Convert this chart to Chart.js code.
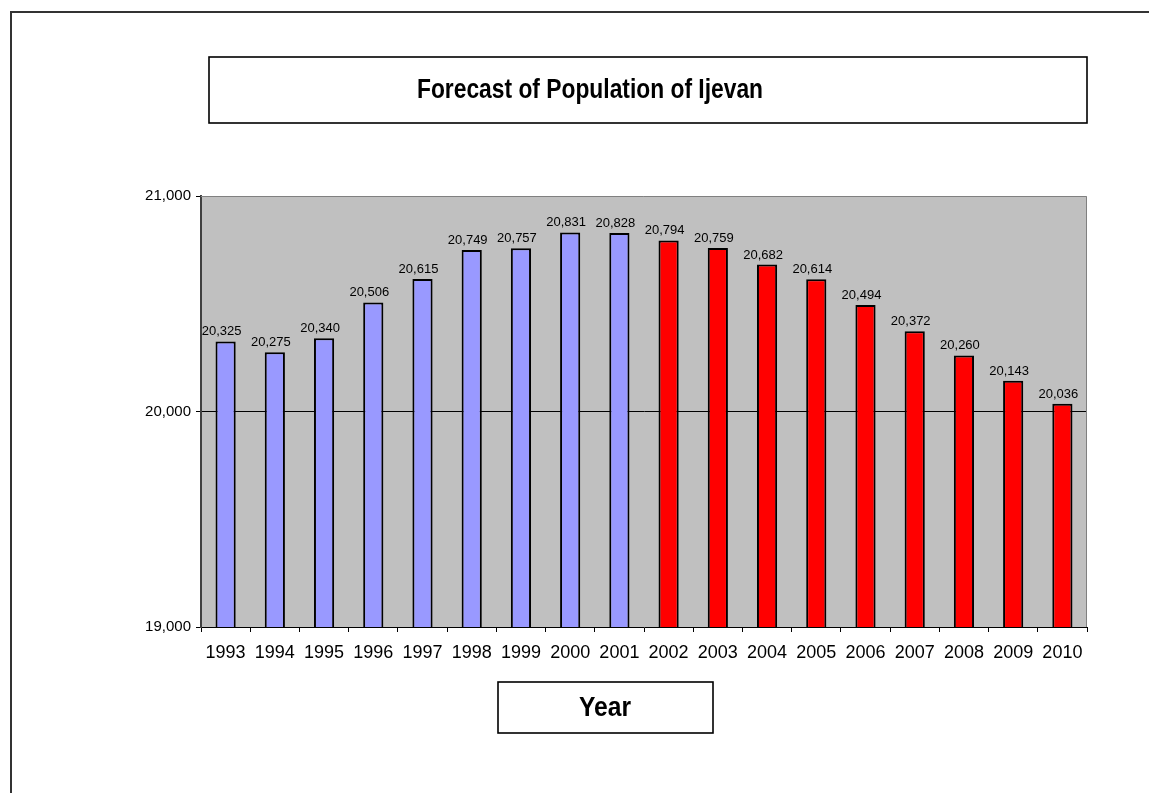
<!DOCTYPE html>
<html>
<head>
<meta charset="utf-8">
<script src="https://cdn.jsdelivr.net/npm/chart.js@4.4.1/dist/chart.umd.min.js"></script>
<style>
html, body { margin: 0; padding: 0; background: #fff; }
#wrap { width: 1149px; height: 793px; }
</style>
</head>
<body>
<div id="wrap"><canvas id="chartPop" width="1149" height="793"></canvas></div>
<script>
// data
const years = ['1993', '1994', '1995', '1996', '1997', '1998', '1999', '2000', '2001',
  '2002', '2003', '2004', '2005', '2006', '2007', '2008', '2009', '2010'];
const population = [20325, 20275, 20340, 20506, 20615, 20749, 20757, 20831, 20828,
  20794, 20759, 20682, 20614, 20494, 20372, 20260, 20143, 20036];
const firstForecastYear = 2002;
const yTicks = [19000, 20000, 21000];

const titleText = 'Forecast of Population of Ijevan';
const axisTitleText = 'Year';

const plainFont = "'Liberation Sans', Arial, sans-serif";

const barColors = years.map(y => Number(y) < firstForecastYear ? '#9999ff' : '#ff0000');
const fmt = v => v.toLocaleString('en-US');

// boxed label; the font is squeezed sideways to look like Arial Narrow
function box(ctx, x1, y1, x2, y2, text, cx, cy, targetW) {
  ctx.save();
  ctx.fillStyle = '#fff';
  ctx.fillRect(x1, y1, x2 - x1, y2 - y1);
  ctx.strokeStyle = '#000';
  ctx.lineWidth = 1.6;
  ctx.strokeRect(x1, y1, x2 - x1, y2 - y1);
  ctx.fillStyle = '#000';
  ctx.font = 'bold 27px ' + plainFont;
  ctx.textAlign = 'center';
  ctx.textBaseline = 'middle';
  const k = Math.min(1, targetW / ctx.measureText(text).width);
  ctx.translate(cx, cy);
  ctx.scale(k, 1);
  ctx.fillText(text, 0, 0);
  ctx.restore();
}

const decor = {
  id: 'decor',
  beforeDraw(chart) {
    const { ctx, chartArea: a } = chart;
    ctx.save();
    ctx.strokeStyle = '#333';
    ctx.lineWidth = 2;
    ctx.strokeRect(11, 12, 1160, 800);
    ctx.fillStyle = '#c0c0c0';
    ctx.fillRect(a.left, a.top, a.right - a.left, a.bottom - a.top);
    ctx.restore();
  },
  afterDatasetsDraw(chart) {
    const { ctx } = chart;
    const meta = chart.getDatasetMeta(0);
    ctx.save();
    ctx.fillStyle = '#000';
    ctx.font = '13px ' + plainFont;
    ctx.textAlign = 'center';
    ctx.textBaseline = 'alphabetic';
    meta.data.forEach((bar, i) => {
      ctx.fillText(fmt(population[i]), bar.x - 4, bar.y - 6);
    });
    ctx.restore();
  },
  afterDraw(chart) {
    const { ctx, chartArea: a } = chart;
    ctx.save();
    ctx.strokeStyle = '#808080';
    ctx.lineWidth = 1;
    ctx.beginPath();
    ctx.moveTo(a.left, a.top + 0.5);
    ctx.lineTo(a.right - 0.5, a.top + 0.5);
    ctx.lineTo(a.right - 0.5, a.bottom);
    ctx.stroke();
    ctx.restore();
    box(ctx, 209, 57, 1087, 123, titleText, 590, 91, 346);
    box(ctx, 498, 682, 713, 733, axisTitleText, 605, 709, 52);
  }
};

new Chart(document.getElementById('chartPop').getContext('2d'), {
  type: 'bar',
  data: {
    labels: years,
    datasets: [{
      label: 'Population',
      data: population,
      backgroundColor: barColors,
      borderColor: '#000',
      borderWidth: 2,
      categoryPercentage: 1,
      barPercentage: 0.41
    }]
  },
  options: {
    responsive: false,
    animation: false,
    layout: { padding: { left: 0, top: 196, right: 62, bottom: 0 } },
    plugins: {
      legend: { display: false },
      title: { display: false },
      tooltip: { enabled: false }
    },
    scales: {
      x: {
        afterFit: s => { s.height = 166; },
        grid: {
          drawOnChartArea: false,
          drawTicks: true,
          tickLength: 5,
          tickColor: '#000',
          offset: true
        },
        border: { color: '#000', width: 1 },
        ticks: {
          color: '#000',
          padding: 10,
          font: { family: plainFont, size: 18 },
          maxRotation: 0,
          autoSkip: false
        }
      },
      y: {
        min: yTicks[0],
        max: yTicks[yTicks.length - 1],
        afterFit: s => { s.width = 201; },
        afterBuildTicks: s => { s.ticks = yTicks.map(v => ({ value: v })); },
        grid: {
          color: c => (c.tick && c.tick.value === 20000) ? '#000' : 'rgba(0,0,0,0)',
          tickColor: '#000',
          tickLength: 5
        },
        border: { color: '#404040', width: 2 },
        ticks: {
          color: '#000',
          padding: 5,
          font: { family: plainFont, size: 15 },
          callback: v => fmt(v)
        }
      }
    }
  },
  plugins: [decor]
});
</script>
</body>
</html>
